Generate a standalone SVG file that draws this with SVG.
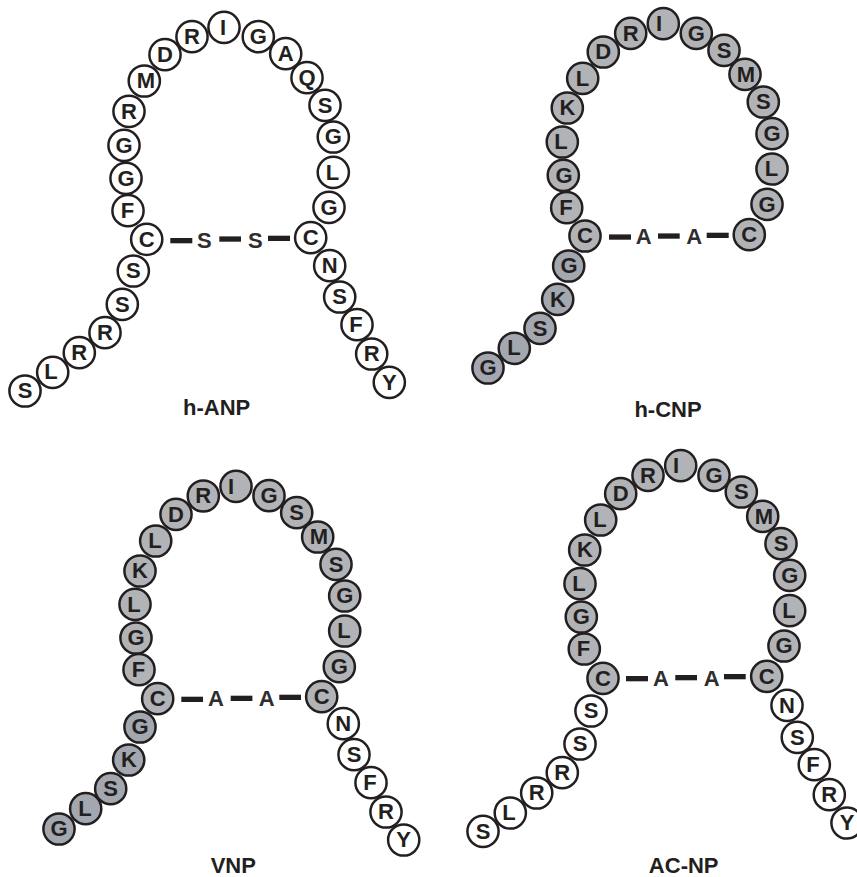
<svg xmlns="http://www.w3.org/2000/svg" width="857" height="877" viewBox="0 0 857 877">
<style>
text{font-family:"Liberation Sans",Arial,sans-serif;font-weight:bold;fill:#231f20;text-anchor:middle}
.n text{font-size:22px}
.t{font-size:22px}
.b{font-size:22px;fill:#2f2d2e}
circle{r:15.6px;stroke:#231f20;stroke-width:2.5}
.w circle{fill:#fff}
.g circle{fill:#b1b3b6}
.d circle{fill:#a3a8b0}
.c rect{fill:#231f20}
</style>
<rect width="857" height="877" fill="#fff"/>
<g id="connectors" class="c">
<rect x="170.3" y="238" width="22" height="5.3"/><rect x="219.3" y="236.4" width="21.7" height="5.3"/><rect x="268" y="235.7" width="22" height="5.3"/>
<rect x="609" y="234.4" width="22" height="5.3"/><rect x="658" y="233.4" width="21.7" height="5.3"/><rect x="706.7" y="232.7" width="22" height="5.3"/>
<rect x="181.3" y="696.7" width="21.7" height="5.3"/><rect x="230.7" y="695.7" width="21.7" height="5.3"/><rect x="279.3" y="694.7" width="21.7" height="5.3"/>
<rect x="626" y="676" width="22" height="5.3"/><rect x="675.3" y="675" width="21.7" height="5.3"/><rect x="724" y="674" width="21.7" height="5.3"/>
</g>
<g id="h-ANP">
<g id="anp-1" class="n w"><circle cx="25" cy="391"/><text x="25" y="398.3">S</text></g>
<g id="anp-2" class="n w"><circle cx="52.7" cy="372.3"/><text x="51" y="379">L</text></g>
<g id="anp-3" class="n w"><circle cx="79.3" cy="352.7"/><text x="79.3" y="360">R</text></g>
<g id="anp-4" class="n w"><circle cx="105" cy="332.7"/><text x="105" y="340">R</text></g>
<g id="anp-5" class="n w"><circle cx="122.3" cy="304.3"/><text x="122.3" y="311.6">S</text></g>
<g id="anp-6" class="n w"><circle cx="133.3" cy="271"/><text x="133.3" y="278.3">S</text></g>
<g id="anp-7" class="n w"><circle cx="146.7" cy="239.3"/><text x="146.7" y="246.6">C</text></g>
<g id="anp-8" class="n w"><circle cx="128" cy="210.7"/><text x="127.5" y="218">F</text></g>
<g id="anp-9" class="n w"><circle cx="126" cy="178.3"/><text x="126" y="185.6">G</text></g>
<g id="anp-10" class="n w"><circle cx="124" cy="145.3"/><text x="124" y="152.6">G</text></g>
<g id="anp-11" class="n w"><circle cx="129" cy="111.3"/><text x="129" y="118.6">R</text></g>
<g id="anp-12" class="n w"><circle cx="144.3" cy="81"/><text x="146" y="88.3">M</text></g>
<g id="anp-13" class="n w"><circle cx="165" cy="54.7"/><text x="165" y="62">D</text></g>
<g id="anp-14" class="n w"><circle cx="192" cy="36.7"/><text x="192" y="44">R</text></g>
<g id="anp-15" class="n w"><circle cx="224" cy="27.3"/><text x="223" y="34.6">I</text></g>
<g id="anp-16" class="n w"><circle cx="258.3" cy="36.7"/><text x="258.3" y="44">G</text></g>
<g id="anp-17" class="n w"><circle cx="285.7" cy="53.7"/><text x="285.7" y="61">A</text></g>
<g id="anp-18" class="n w"><circle cx="307" cy="77.7"/><text x="307" y="85">Q</text></g>
<g id="anp-19" class="n w"><circle cx="325" cy="105.3"/><text x="325" y="112.6">S</text></g>
<g id="anp-20" class="n w"><circle cx="333.3" cy="137"/><text x="333.3" y="144.3">G</text></g>
<g id="anp-21" class="n w"><circle cx="333.3" cy="172.3"/><text x="332.5" y="179.6">L</text></g>
<g id="anp-22" class="n w"><circle cx="329" cy="207.3"/><text x="329" y="214.6">G</text></g>
<g id="anp-23" class="n w"><circle cx="310.7" cy="237.7"/><text x="310.7" y="245">C</text></g>
<g id="anp-24" class="n w"><circle cx="329.7" cy="265.7"/><text x="329.7" y="273">N</text></g>
<g id="anp-25" class="n w"><circle cx="339.7" cy="297"/><text x="339.7" y="304.3">S</text></g>
<g id="anp-26" class="n w"><circle cx="357" cy="324.7"/><text x="356" y="332">F</text></g>
<g id="anp-27" class="n w"><circle cx="371.7" cy="354"/><text x="371.7" y="361.3">R</text></g>
<g id="anp-28" class="n w"><circle cx="389.3" cy="382.3"/><text x="389.3" y="389.6">Y</text></g>
<text class="b" x="204.3" y="247.5">S</text><text class="b" x="255.3" y="247.5">S</text>
<text class="t" x="216.7" y="415">h-ANP</text>
</g>
<g id="h-CNP">
<g id="cnp-1" class="n d"><circle cx="488" cy="368"/><text x="488" y="375.3">G</text></g>
<g id="cnp-2" class="n d"><circle cx="514.3" cy="348.3"/><text x="514" y="355.3">L</text></g>
<g id="cnp-3" class="n d"><circle cx="540" cy="328.3"/><text x="540" y="335.6">S</text></g>
<g id="cnp-4" class="n d"><circle cx="557.7" cy="299.3"/><text x="558" y="306.6">K</text></g>
<g id="cnp-5" class="n d"><circle cx="568.7" cy="266"/><text x="569" y="273.3">G</text></g>
<g id="cnp-6" class="n g"><circle cx="585" cy="236"/><text x="585" y="243.3">C</text></g>
<g id="cnp-7" class="n g"><circle cx="566.7" cy="207.7"/><text x="566" y="215">F</text></g>
<g id="cnp-8" class="n g"><circle cx="563.3" cy="175.3"/><text x="564" y="182.6">G</text></g>
<g id="cnp-9" class="n g"><circle cx="562.3" cy="142"/><text x="561" y="149.3">L</text></g>
<g id="cnp-10" class="n g"><circle cx="567.3" cy="108"/><text x="567.5" y="115.3">K</text></g>
<g id="cnp-11" class="n g"><circle cx="582.7" cy="78.3"/><text x="582.5" y="85.6">L</text></g>
<g id="cnp-12" class="n g"><circle cx="603.3" cy="52"/><text x="603.3" y="59.3">D</text></g>
<g id="cnp-13" class="n g"><circle cx="630.7" cy="33.3"/><text x="630.7" y="40.6">R</text></g>
<g id="cnp-14" class="n g"><circle cx="663.3" cy="23.7"/><text x="659" y="31">I</text></g>
<g id="cnp-15" class="n g"><circle cx="696.3" cy="33.3"/><text x="696.3" y="40.6">G</text></g>
<g id="cnp-16" class="n g"><circle cx="724" cy="50.3"/><text x="724" y="57.6">S</text></g>
<g id="cnp-17" class="n g"><circle cx="745" cy="74.3"/><text x="746" y="81.6">M</text></g>
<g id="cnp-18" class="n g"><circle cx="763.3" cy="102"/><text x="763.3" y="109.3">S</text></g>
<g id="cnp-19" class="n g"><circle cx="772" cy="133.7"/><text x="772" y="141">G</text></g>
<g id="cnp-20" class="n g"><circle cx="772" cy="169"/><text x="771.5" y="176.3">L</text></g>
<g id="cnp-21" class="n g"><circle cx="767" cy="204.3"/><text x="767" y="211.6">G</text></g>
<g id="cnp-22" class="n g"><circle cx="749.3" cy="234.7"/><text x="749.3" y="242">C</text></g>
<text class="b" x="643.7" y="244.3">A</text><text class="b" x="694.3" y="244.3">A</text>
<text class="t" x="668" y="416.7">h-CNP</text>
</g>
<g id="VNP">
<g id="vnp-1" class="n d"><circle cx="59" cy="829"/><text x="59" y="836.3">G</text></g>
<g id="vnp-2" class="n d"><circle cx="85.7" cy="808.7"/><text x="85" y="816">L</text></g>
<g id="vnp-3" class="n d"><circle cx="110.7" cy="788.7"/><text x="110.7" y="796">S</text></g>
<g id="vnp-4" class="n d"><circle cx="128.7" cy="760"/><text x="129" y="767.3">K</text></g>
<g id="vnp-5" class="n d"><circle cx="140" cy="727"/><text x="140" y="734.3">G</text></g>
<g id="vnp-6" class="n g"><circle cx="157.7" cy="698.7"/><text x="157.7" y="706">C</text></g>
<g id="vnp-7" class="n g"><circle cx="139" cy="669.7"/><text x="138.5" y="677">F</text></g>
<g id="vnp-8" class="n g"><circle cx="136" cy="638"/><text x="136" y="645.3">G</text></g>
<g id="vnp-9" class="n g"><circle cx="135" cy="604.3"/><text x="134" y="611.6">L</text></g>
<g id="vnp-10" class="n g"><circle cx="140" cy="571"/><text x="140" y="578.3">K</text></g>
<g id="vnp-11" class="n g"><circle cx="155.7" cy="541"/><text x="155" y="548.3">L</text></g>
<g id="vnp-12" class="n g"><circle cx="176" cy="514.3"/><text x="176" y="521.6">D</text></g>
<g id="vnp-13" class="n g"><circle cx="203.3" cy="496"/><text x="203.3" y="503.3">R</text></g>
<g id="vnp-14" class="n g"><circle cx="236" cy="486.3"/><text x="231" y="493.6">I</text></g>
<g id="vnp-15" class="n g"><circle cx="269" cy="495.7"/><text x="269" y="503">G</text></g>
<g id="vnp-16" class="n g"><circle cx="296.7" cy="512.7"/><text x="296.7" y="520">S</text></g>
<g id="vnp-17" class="n g"><circle cx="317.7" cy="537"/><text x="319" y="544.3">M</text></g>
<g id="vnp-18" class="n g"><circle cx="336" cy="564.3"/><text x="336" y="571.6">S</text></g>
<g id="vnp-19" class="n g"><circle cx="344.7" cy="596"/><text x="344.7" y="603.3">G</text></g>
<g id="vnp-20" class="n g"><circle cx="344.7" cy="631"/><text x="344" y="638.3">L</text></g>
<g id="vnp-21" class="n g"><circle cx="339.3" cy="666.7"/><text x="339.3" y="674">G</text></g>
<g id="vnp-22" class="n g"><circle cx="321.7" cy="696.7"/><text x="321.7" y="704">C</text></g>
<g id="vnp-23" class="n w"><circle cx="343.3" cy="723.7"/><text x="343.3" y="731">N</text></g>
<g id="vnp-24" class="n w"><circle cx="354" cy="754.7"/><text x="354" y="762">S</text></g>
<g id="vnp-25" class="n w"><circle cx="371" cy="782.7"/><text x="370" y="790">F</text></g>
<g id="vnp-26" class="n w"><circle cx="386" cy="812"/><text x="386" y="819.3">R</text></g>
<g id="vnp-27" class="n w"><circle cx="403.7" cy="840"/><text x="403.7" y="847.3">Y</text></g>
<text class="b" x="216" y="706.3">A</text><text class="b" x="266.7" y="706.3">A</text>
<text class="t" x="233.3" y="872.7">VNP</text>
</g>
<g id="AC-NP">
<g id="ac-1" class="n w"><circle cx="483" cy="831.3"/><text x="483" y="838.6">S</text></g>
<g id="ac-2" class="n w"><circle cx="510.3" cy="813"/><text x="509" y="820">L</text></g>
<g id="ac-3" class="n w"><circle cx="536.7" cy="793"/><text x="536.7" y="800.3">R</text></g>
<g id="ac-4" class="n w"><circle cx="562.3" cy="772.7"/><text x="562.3" y="780">R</text></g>
<g id="ac-5" class="n w"><circle cx="580" cy="744"/><text x="580" y="751.3">S</text></g>
<g id="ac-6" class="n w"><circle cx="591" cy="711"/><text x="591" y="718.3">S</text></g>
<g id="ac-7" class="n g"><circle cx="603" cy="678.3"/><text x="603" y="685.6">C</text></g>
<g id="ac-8" class="n g"><circle cx="584.3" cy="649"/><text x="583.5" y="656.3">F</text></g>
<g id="ac-9" class="n g"><circle cx="581.3" cy="617"/><text x="581.3" y="624.3">G</text></g>
<g id="ac-10" class="n g"><circle cx="580" cy="583.7"/><text x="579" y="591">L</text></g>
<g id="ac-11" class="n g"><circle cx="584.7" cy="550"/><text x="585" y="557.3">K</text></g>
<g id="ac-12" class="n g"><circle cx="600.7" cy="520"/><text x="600" y="527.3">L</text></g>
<g id="ac-13" class="n g"><circle cx="620.7" cy="493.7"/><text x="620.7" y="501">D</text></g>
<g id="ac-14" class="n g"><circle cx="648" cy="475.3"/><text x="648" y="482.6">R</text></g>
<g id="ac-15" class="n g"><circle cx="680.7" cy="465.7"/><text x="676" y="473">I</text></g>
<g id="ac-16" class="n g"><circle cx="714" cy="475.3"/><text x="714" y="482.6">G</text></g>
<g id="ac-17" class="n g"><circle cx="741.3" cy="492"/><text x="741.3" y="499.3">S</text></g>
<g id="ac-18" class="n g"><circle cx="762.7" cy="516.3"/><text x="764" y="523.6">M</text></g>
<g id="ac-19" class="n g"><circle cx="781" cy="543.7"/><text x="781" y="551">S</text></g>
<g id="ac-20" class="n g"><circle cx="789.7" cy="575.3"/><text x="789.7" y="582.6">G</text></g>
<g id="ac-21" class="n g"><circle cx="789.7" cy="610.7"/><text x="789" y="618">L</text></g>
<g id="ac-22" class="n g"><circle cx="784" cy="646"/><text x="784" y="653.3">G</text></g>
<g id="ac-23" class="n g"><circle cx="766.7" cy="676.3"/><text x="766.7" y="683.6">C</text></g>
<g id="ac-24" class="n w"><circle cx="787" cy="705.3"/><text x="787" y="712.6">N</text></g>
<g id="ac-25" class="n w"><circle cx="797.3" cy="737.3"/><text x="797.3" y="744.6">S</text></g>
<g id="ac-26" class="n w"><circle cx="814.3" cy="764.7"/><text x="813" y="772">F</text></g>
<g id="ac-27" class="n w"><circle cx="829.3" cy="794.7"/><text x="829.3" y="802">R</text></g>
<g id="ac-28" class="n w"><circle cx="847" cy="823"/><text x="847" y="830.3">Y</text></g>
<text class="b" x="661" y="686">A</text><text class="b" x="711.7" y="686">A</text>
<text class="t" x="683.7" y="872.7">AC-NP</text>
</g>
</svg>
